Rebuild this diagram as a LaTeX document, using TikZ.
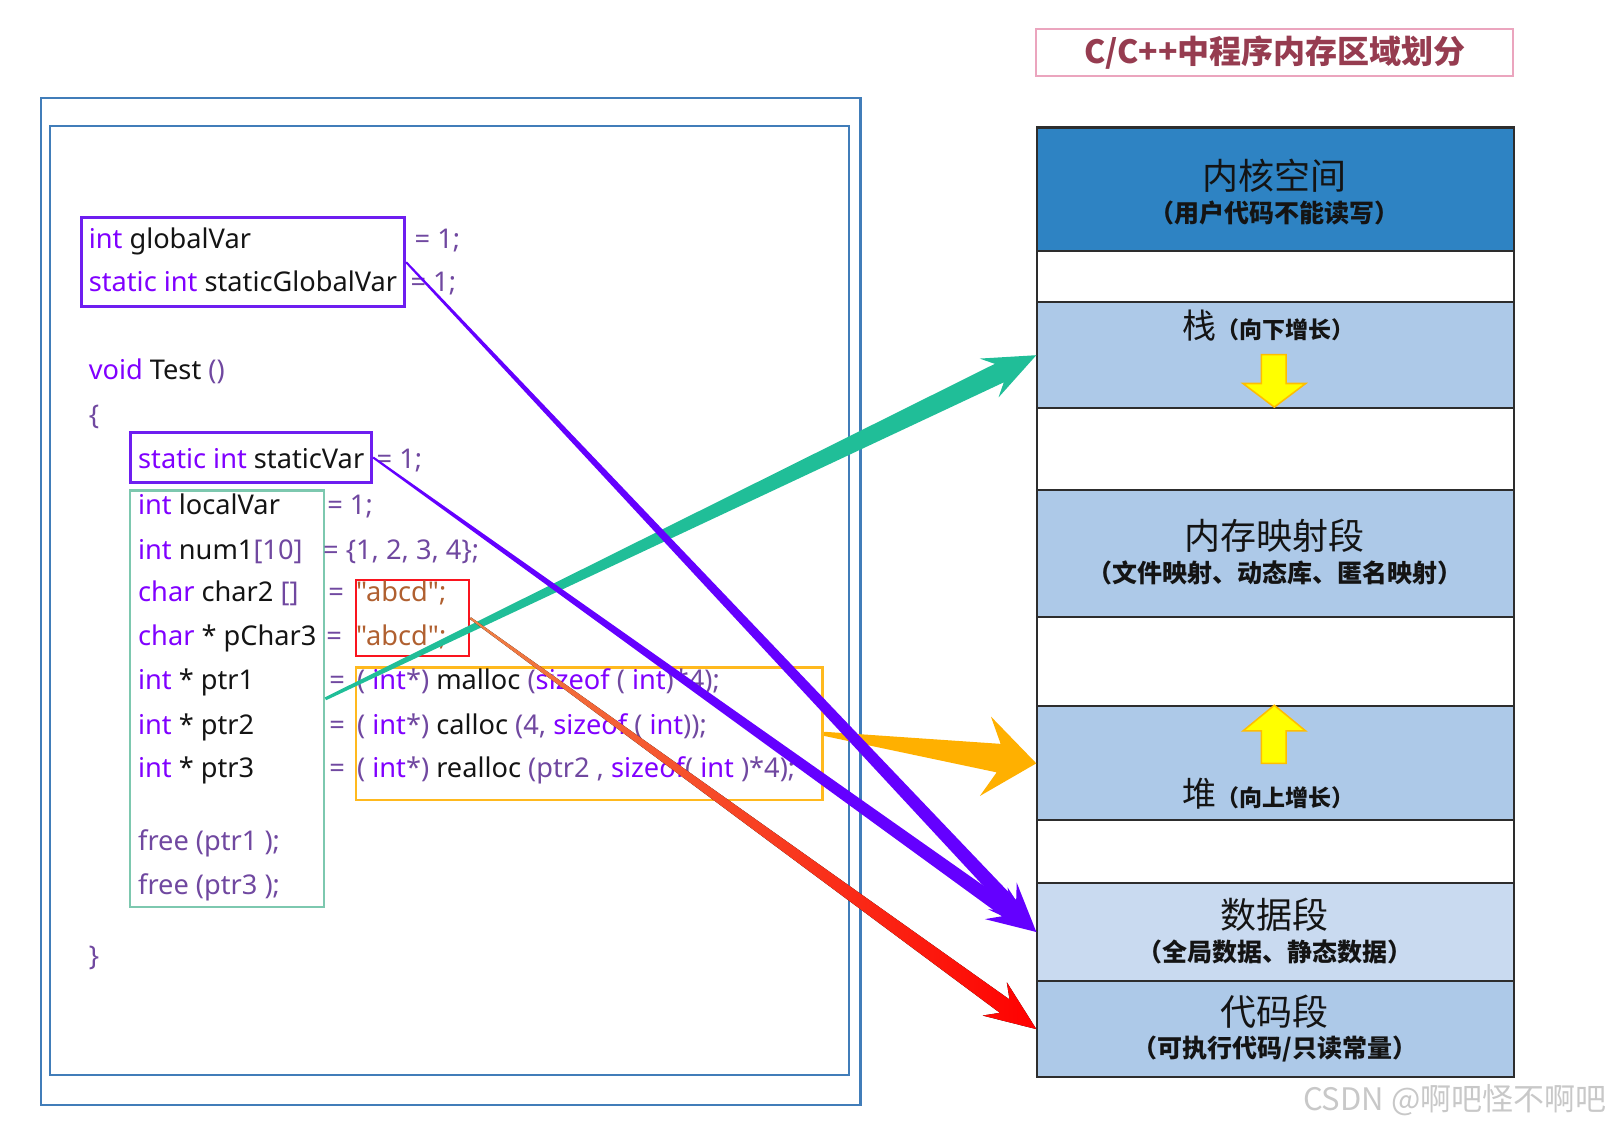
\documentclass[tikz,border=0pt]{standalone}
\usepackage{fontspec}
\setmainfont{Noto Sans}
\newfontfamily\codefont{Noto Sans}
\newfontfamily\cjk{Noto Sans CJK SC}
\usetikzlibrary{calc}
\newlength{\pxu}\setlength{\pxu}{0.514pt}
\definecolor{kwc}{RGB}{128,0,255}
\definecolor{pnc}{RGB}{112,72,160}
\definecolor{strc}{RGB}{176,96,48}
\definecolor{idc}{RGB}{20,20,20}
\definecolor{framec}{RGB}{65,125,185}
\definecolor{purplec}{RGB}{110,30,240}
\definecolor{greenc}{RGB}{125,200,175}
\definecolor{redc}{RGB}{250,20,30}
\definecolor{orangec}{RGB}{255,185,30}
\definecolor{segline}{RGB}{45,45,45}
\definecolor{kernc}{RGB}{46,131,195}
\definecolor{lightc}{RGB}{173,201,232}
\definecolor{datac}{RGB}{201,218,240}
\definecolor{titlec}{RGB}{150,60,80}
\definecolor{pinkc}{RGB}{235,165,190}
\definecolor{tealc}{RGB}{32,190,152}
\definecolor{arrpurple}{RGB}{100,0,255}
\definecolor{arrorange}{RGB}{255,176,0}
\definecolor{arrred}{RGB}{255,0,0}
\definecolor{startorange}{RGB}{240,130,70}
\definecolor{yelc}{RGB}{255,255,0}
\definecolor{yelborder}{RGB}{255,190,0}
\definecolor{wmc}{RGB}{200,200,200}
\newcommand{\ckw}[1]{\textcolor{kwc}{#1}}
\newcommand{\cpn}[1]{\textcolor{pnc}{#1}}
\newcommand{\cstr}[1]{\textcolor{strc}{#1}}
% tapered arrow: style, start, tip, start half width, shaft half width, junction back, barb back, barb half width
\newcommand{\taperarrow}[8]{%
  \coordinate (taJ) at ($(#3)!#6\pxu!(#2)$);
  \coordinate (taB) at ($(#3)!#7\pxu!(#2)$);
  \fill[#1] ($(#2)!#4\pxu!90:(#3)$) -- ($(taJ)!#5\pxu!-90:(#2)$) -- ($(taB)!#8\pxu!-90:(#2)$) -- (#3)
     -- ($(taB)!#8\pxu!90:(#2)$) -- ($(taJ)!#5\pxu!90:(#2)$) -- ($(#2)!#4\pxu!-90:(#3)$) -- cycle;
}
\begin{document}
\begin{tikzpicture}[x=0.514pt, y=-0.514pt,
  code/.style={anchor=base west, inner sep=0pt, text=idc, font=\codefont\fontsize{13.6}{16}\selectfont},
  codebox/.style={draw, inner sep=0pt, anchor=north west},
  seg/.style={draw=segline, line width=2\pxu, minimum width=464\pxu, inner sep=0pt, anchor=north west},
  big/.style={text=idc, inner sep=0pt, font=\cjk\fontsize{18}{20}\selectfont},
  small/.style={text=idc, inner sep=0pt, font=\cjk\bfseries\fontsize{12.5}{14}\selectfont},
  mid/.style={text=idc, inner sep=0pt, font=\cjk\fontsize{17}{19}\selectfont},
  yarrow/.style={fill=yelc, draw=yelborder, line width=1.5\pxu, line join=miter}
]
\useasboundingbox (0,0) rectangle (1567,1096);

% frames
\draw[framec, line width=2\pxu] (40,95) rectangle (837,1075);
\draw[framec, line width=2\pxu] (49,123) rectangle (826,1046);

% code boxes
\node[codebox, draw=purplec, line width=3\pxu, minimum width=314\pxu, minimum height=87\pxu] (gvbox) at (78,210) {};
\node[codebox, draw=purplec, line width=3\pxu, minimum width=235\pxu, minimum height=49\pxu] (svbox) at (125,419) {};
\node[codebox, draw=greenc, line width=2.5\pxu, minimum width=189\pxu, minimum height=405\pxu] (lvbox) at (125,476) {};
\node[codebox, draw=redc, line width=2.5\pxu, minimum width=110\pxu, minimum height=74\pxu] (strbox) at (345,563) {};
\node[codebox, draw=orangec, line width=2.5\pxu, minimum width=454\pxu, minimum height=129\pxu] (heapbox) at (345,648) {};

% code text
\node[code] (l1) at (86,242) {\ckw{int} globalVar};
\node[code] (r1) at (403,242) {\cpn{= 1;}};
\node[code] (l2) at (86,284) {\ckw{static int} staticGlobalVar};
\node[code] (r2) at (399,284) {\cpn{= 1;}};
\node[code] (l3) at (86,369) {\ckw{void} Test \cpn{()}};
\node[code] (l4) at (86,413) {\cpn{\{}};
\node[code] (l5) at (134,456) {\ckw{static int} staticVar};
\node[code] (r5) at (366,456) {\cpn{= 1;}};
\node[code] (l6) at (134,500) {\ckw{int} localVar};
\node[code] (r6) at (318,500) {\cpn{= 1;}};
\node[code] (l7) at (134,544) {\ckw{int} num1\cpn{[10]}};
\node[code] (r7) at (314,544) {\cpn{= \{1, 2, 3, 4\};}};
\node[code] (l8) at (134,585) {\ckw{char} char2 \cpn{[]}};
\node[code] (r8) at (319,585) {\cpn{=}};
\node[code] (s8) at (346,585) {\cstr{"abcd";}};
\node[code] (l9) at (134,628) {\ckw{char} * pChar3};
\node[code] (r9) at (317,628) {\cpn{=}};
\node[code] (s9) at (346,628) {\cstr{"abcd";}};
\node[code] (l10) at (134,671) {\ckw{int} * ptr1};
\node[code] (r10) at (320,671) {\cpn{=}};
\node[code] (s10) at (347,671) {\cpn{(} \ckw{int}\cpn{*)} malloc \cpn{(}\ckw{sizeof} \cpn{(} \ckw{int}\cpn{)*4);}};
\node[code] (l11) at (134,714) {\ckw{int} * ptr2};
\node[code] (r11) at (320,714) {\cpn{=}};
\node[code] (s11) at (347,714) {\cpn{(} \ckw{int}\cpn{*)} calloc \cpn{(4,} \ckw{sizeof} \cpn{(} \ckw{int}\cpn{));}};
\node[code] (l12) at (134,756) {\ckw{int} * ptr3};
\node[code] (r12) at (320,756) {\cpn{=}};
\node[code] (s12) at (347,756) {\cpn{(} \ckw{int}\cpn{*)} realloc \cpn{(ptr2 ,} \ckw{sizeof}\cpn{(} \ckw{int} \cpn{)*4);}};
\node[code] (l13) at (134,827) {\cpn{free (ptr1 );}};
\node[code] (l14) at (134,870) {\cpn{free (ptr3 );}};
\node[code] (l15) at (86,939) {\cpn{\}}};

% title
\node[draw=pinkc, line width=2\pxu, minimum width=464\pxu, minimum height=46\pxu, inner sep=0pt,
      text=titlec, font=\cjk\bfseries\fontsize{16}{18}\selectfont] (title) at (1240,51) {C/C++中程序内存区域划分};

% memory segments
\node[seg, fill=kernc, minimum height=120\pxu] (kern) at (1008,123) {};
\node[seg, fill=white, minimum height=50\pxu] (gap1) at (1008,243) {};
\node[seg, fill=lightc, minimum height=103\pxu] (stack) at (1008,293) {};
\node[seg, fill=white, minimum height=80\pxu] (gap2) at (1008,396) {};
\node[seg, fill=lightc, minimum height=123\pxu] (mmap) at (1008,476) {};
\node[seg, fill=white, minimum height=87\pxu] (gap3) at (1008,599) {};
\node[seg, fill=lightc, minimum height=111\pxu] (heap) at (1008,686) {};
\node[seg, fill=white, minimum height=61\pxu] (gap4) at (1008,797) {};
\node[seg, fill=datac, minimum height=95\pxu] (data) at (1008,858) {};
\node[seg, fill=lightc, minimum height=94\pxu] (code) at (1008,953) {};

% segment labels
\node[big] (kt1) at (1240,171) {内核空间};
\node[small] (kt2) at (1240,207.5) {（用户代码不能读写）};
\node[mid] (st1) at (1234,317) {栈{\bfseries\fontsize{11.5}{13}\selectfont（向下增长）}};
\node[big] (mm1) at (1240,521) {内存映射段};
\node[small] (mm2) at (1240,557.7) {（文件映射、动态库、匿名映射）};
\node[mid] (hp1) at (1234,772) {堆{\bfseries\fontsize{11.5}{13}\selectfont（向上增长）}};
\node[big] (dt1) at (1240,890) {数据段};
\node[small] (dt2) at (1240,926) {（全局数据、静态数据）};
\node[big] (cd1) at (1240,984) {代码段};
\node[small] (cd2) at (1240,1020.6) {（可执行代码/只读常量）};

% growth arrows
\draw[yarrow] (1227,345) -- (1251,345) -- (1251,373) -- (1270,373) -- (1239.5,396) -- (1209,373) -- (1227,373) -- cycle;
\draw[yarrow] (1227,742.5) -- (1251,742.5) -- (1251,711) -- (1270,711) -- (1239.5,686) -- (1209,711) -- (1227,711) -- cycle;

% connectors (tapered arrows)
\taperarrow{arrorange}{heapbox.east}{heap.west}{2}{14}{37}{50}{39}
\taperarrow{tealc}{lvbox.east}{stack.west}{1.5}{10}{40}{51}{21}
\taperarrow{arrpurple}{gvbox.east}{data.west}{1}{7}{36}{48}{19}
\taperarrow{arrpurple}{svbox.east}{data.west}{1}{7}{36}{48}{19}
\taperarrow{left color=startorange, middle color=arrred, right color=arrred}{strbox.east}{code.west}{1}{8}{38}{50}{20}

% watermark
\node[text=wmc, inner sep=0pt, font=\cjk\fontsize{15.5}{17}\selectfont] (wm) at (1415,1070) {CSDN @啊吧怪不啊吧};
\end{tikzpicture}
\end{document}
